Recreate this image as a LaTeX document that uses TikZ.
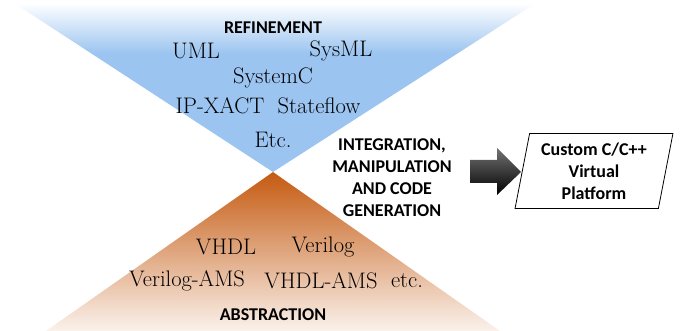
\documentclass[tikz,border=0pt]{standalone}
\usepackage{fontspec}
\setsansfont{Carlito}
\usetikzlibrary{shapes.geometric}
\definecolor{refblue}{RGB}{155,196,240}
\definecolor{absorange}{RGB}{197,90,17}
\pgfdeclareverticalshading{refshade}{100bp}{color(0bp)=(refblue); color(60bp)=(refblue); color(75bp)=(white); color(100bp)=(white)}
\begin{document}
\begin{tikzpicture}[x=1pt,y=-1pt,
	every node/.style={font=\fontsize{22.5}{24}\selectfont},
	lang/.style={anchor=center},
	head/.style={font=\sffamily\bfseries\fontsize{18}{22}\selectfont},
	platbox/.style={draw,thick,trapezium,trapezium left angle=79,trapezium right angle=101,
		minimum height=75pt,minimum width=153pt,inner xsep=-4pt,inner ysep=0pt,align=center,
		font=\sffamily\bfseries\fontsize{18}{22}\selectfont}]
		\useasboundingbox (0,0) rectangle (681,331);
		% refinement and abstraction triangles
		\shade[shading=refshade] (14,3) -- (536,3) -- (273,172) -- cycle;
		\begin{scope}
			\clip (0,0) rectangle (681,331);
			\shade[top color=absorange,bottom color=white] (273,172) -- (520,345) -- (26,345) -- cycle;
		\end{scope}
		\node[head] (refine) at (273,28) {REFINEMENT};
		\node[lang] (uml) at (196,51) {UML};
		\node[lang] (sysml) at (341,51) {SysML};
		\node[lang] (sysc) at (273,78) {SystemC};
		\node[lang] (ipx) at (220,106) {IP-XACT};
		\node[lang] (sflow) at (319,106) {Stateflow};
		\node[lang] (etc1) at (273,140) {Etc.};
		\node[lang] (vhdl) at (226,247) {VHDL};
		\node[lang] (vlog) at (323,247) {Verilog};
		\node[lang] (vams) at (187,281) {Verilog-AMS};
		\node[lang] (hams) at (321,281) {VHDL-AMS};
		\node[lang] (etc2) at (407,281) {etc.};
		\node[head] (abstr) at (273,315) {ABSTRACTION};
		% integration step
		\node[head,align=center] (intg) at (392,178) {INTEGRATION,\\MANIPULATION\\AND CODE\\GENERATION};
		\shade[top color=black!55,bottom color=black] (470,160) -- (497,160) -- (497,148) -- (521,172)
			-- (497,195) -- (497,183) -- (470,183) -- cycle;
		\node[platbox] (plat) at (594,171) {Custom C/C++\\Virtual\\Platform};
	\end{tikzpicture}
\end{document}
